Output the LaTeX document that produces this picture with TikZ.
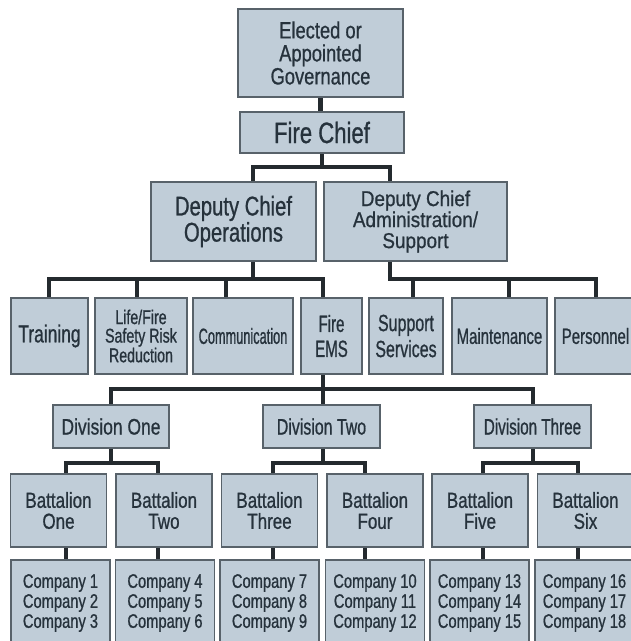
\documentclass[tikz,border=0pt]{standalone}
\usepackage{fontspec}
\setmainfont{Liberation Sans}
% condensed, slightly heavier cuts of the same face
\newfontfamily\narrowA{Liberation Sans}[FakeStretch=0.78,FakeBold=0.8]
\newfontfamily\narrowB{Liberation Sans}[FakeStretch=0.75,FakeBold=0.8]
\newfontfamily\narrowC{Liberation Sans}[FakeStretch=0.71,FakeBold=0.8]
\newfontfamily\narrowD{Liberation Sans}[FakeStretch=0.68,FakeBold=0.8]
\newfontfamily\narrowE{Liberation Sans}[FakeStretch=0.64,FakeBold=0.8]
\newfontfamily\narrowF{Liberation Sans}[FakeStretch=0.58,FakeBold=0.8]
\newfontfamily\narrowW{Liberation Sans}[FakeStretch=0.88,FakeBold=0.8]
\usetikzlibrary{backgrounds}

\definecolor{boxfill}{RGB}{192,205,216}
\definecolor{boxline}{RGB}{88,98,106}
\definecolor{ink}{RGB}{38,50,60}
\definecolor{wire}{RGB}{36,42,46}

\begin{document}
\begin{tikzpicture}[x=1pt,y=-1pt,
  box/.style={draw=boxline,line width=1.3pt,fill=boxfill,text=ink,
              inner sep=0pt,outer sep=0pt,align=center},
  sz/.style 2 args={minimum width=#1pt,minimum height=#2pt},
  conn/.style={draw=wire,line width=4.5pt}]

\useasboundingbox (0,0) rectangle (631,641);

% ---- top ----
\node[box,sz={165}{88},font={\narrowA\fontsize{23.5}{23}\selectfont}] (gov) at (320.5,53) {Elected or\\Appointed\\Governance};
\node[box,sz={164}{41},font={\narrowB\fontsize{29.5}{30}\selectfont}] (chief) at (322,132.5) {Fire Chief};

% ---- deputies ----
\node[box,sz={165}{79},font={\narrowB\fontsize{27}{25}\selectfont}] (ops) at (233.5,221.5) {Deputy Chief\\Operations};
\node[box,sz={183}{79},font={\narrowW\fontsize{21.5}{21}\selectfont}] (adm) at (415.5,221.5) {Deputy Chief\\Administration/\\Support};

% ---- sections ----
\node[box,sz={77}{76},font={\narrowC\fontsize{24.5}{24}\selectfont}] (train) at (49.5,336) {Training};
\node[box,sz={92}{76},font={\narrowC\fontsize{20}{18.5}\selectfont}] (life) at (141,336) {Life/Fire\\Safety Risk\\Reduction};
\node[box,sz={100}{76},font={\narrowF\fontsize{22}{22}\selectfont}] (comm) at (243,336) {Communication};
\node[box,sz={61}{76},font={\narrowE\fontsize{23.5}{25}\selectfont}] (ems) at (331.5,336) {Fire\\EMS};
\node[box,sz={74}{76},font={\narrowD\fontsize{23.5}{26}\selectfont}] (supp) at (406,336) {Support\\Services};
\node[box,sz={95}{76},font={\narrowD\fontsize{22}{22}\selectfont}] (maint) at (499.5,336) {Maintenance};
\node[box,sz={81}{76},font={\narrowD\fontsize{22}{22}\selectfont}] (pers) at (595.5,336) {Personnel};

% ---- divisions ----
\node[box,sz={116}{43},font={\narrowA\fontsize{22.4}{22}\selectfont}] (div1) at (111,426.5) {Division One};
\node[box,sz={117}{43},font={\narrowC\fontsize{22.4}{22}\selectfont}] (div2) at (321.5,426.5) {Division Two};
\node[box,sz={117}{43},font={\narrowD\fontsize{22.4}{22}\selectfont}] (div3) at (532.5,426.5) {Division Three};

% ---- battalions ----
\tikzset{bat/.style={box,sz={96}{73},font={\narrowA\fontsize{21.8}{21}\selectfont}}}
\node[bat] (b1) at (58.5,510.5) {Battalion\\One};
\node[bat] (b2) at (164,510.5) {Battalion\\Two};
\node[bat] (b3) at (269.5,510.5) {Battalion\\Three};
\node[bat] (b4) at (375,510.5) {Battalion\\Four};
\node[bat] (b5) at (480,510.5) {Battalion\\Five};
\node[bat] (b6) at (585.5,510.5) {Battalion\\Six};

% ---- companies ----
\tikzset{comp/.style={box,sz={99}{86},font={\narrowB\fontsize{19.6}{20}\selectfont}}}
\node[comp] (c1) at (60.5,603) {Company 1\\Company 2\\Company 3};
\node[comp] (c2) at (165,603) {Company 4\\Company 5\\Company 6};
\node[comp] (c3) at (269.5,603) {Company 7\\Company 8\\Company 9};
\node[comp] (c4) at (375,603) {Company 10\\Company 11\\Company 12};
\node[comp] (c5) at (479.5,603) {Company 13\\Company 14\\Company 15};
\node[comp] (c6) at (584.5,603) {Company 16\\Company 17\\Company 18};

% ---- connectors, behind the boxes ----
\begin{scope}[on background layer]
\fill[white] (0,0) rectangle (631,641);
\draw[conn] (gov.south) -- (gov.south |- chief.north);
\draw[conn] (chief.south) -- ++(0,14);
\draw[conn] (ops.north -| 253,0) -- ++(0,-15) -| (adm.north -| 390,0);

\draw[conn] (ops.south -| 253,0) -- ++(0,18);
\draw[conn] (train.north -| 49,0) -- ++(0,-19) -| (ems.north -| 323,0);
\draw[conn] (life.north -| 137,0) -- ++(0,-19);
\draw[conn] (comm.north -| 226,0) -- ++(0,-19);

\draw[conn] (adm.south -| 390,0) -- ++(0,18) -| (pers.north -| 596,0);
\draw[conn] (supp.north -| 413,0) -- ++(0,-19);
\draw[conn] (maint.north -| 509,0) -- ++(0,-19);

\draw[conn] (ems.south -| 323,0) -- ++(0,15);
\draw[conn] (div1.north -| 111,0) -- ++(0,-16) -| (div3.north -| 533,0);
\draw[conn] (div2.north -| 323,0) -- ++(0,-16);

\draw[conn] (div1.south -| 111,0) -- ++(0,15);
\draw[conn] (b1.north -| 66,0) -- ++(0,-11) -| (b2.north -| 158,0);
\draw[conn] (div2.south -| 323,0) -- ++(0,15);
\draw[conn] (b3.north -| 273,0) -- ++(0,-11) -| (b4.north -| 365,0);
\draw[conn] (div3.south -| 533,0) -- ++(0,15);
\draw[conn] (b5.north -| 483,0) -- ++(0,-11) -| (b6.north -| 578,0);

\draw[conn] (b1.south -| 66,0) -- (c1.north -| 66,0);
\draw[conn] (b2.south -| 158,0) -- (c2.north -| 158,0);
\draw[conn] (b3.south -| 273,0) -- (c3.north -| 273,0);
\draw[conn] (b4.south -| 365,0) -- (c4.north -| 365,0);
\draw[conn] (b5.south -| 483,0) -- (c5.north -| 483,0);
\draw[conn] (b6.south -| 578,0) -- (c6.north -| 578,0);
\end{scope}
\end{tikzpicture}
\end{document}
